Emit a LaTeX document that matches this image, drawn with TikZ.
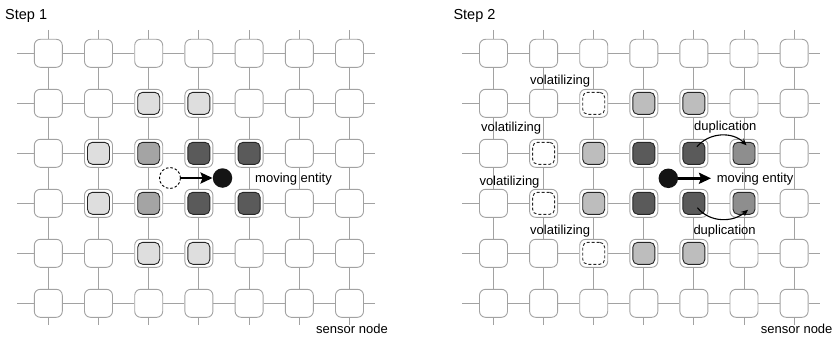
\documentclass[tikz,border=0pt]{standalone}
\usepackage{fontspec}
\setmainfont{Liberation Sans}
\usetikzlibrary{arrows.meta}

\definecolor{gridgray}{HTML}{A2A2A2}
\definecolor{paleone}{HTML}{DEDEDE}
\definecolor{midone}{HTML}{A4A4A4}
\definecolor{darkone}{HTML}{5A5A5A}
\definecolor{paletwo}{HTML}{BDBDBD}
\definecolor{midtwo}{HTML}{8E8E8E}

\begin{document}
\begin{tikzpicture}[x=1pt,y=-1pt,
  gridline/.style={draw=gridgray,line width=0.9pt},
  sensor/.style={draw=gridgray,fill=white,rounded corners=6pt,
    minimum size=28pt,inner sep=0pt,line width=0.9pt},
  core/.style={draw=black!85,rounded corners=5pt,minimum size=22pt,
    inner sep=0pt,line width=0.9pt},
  gone/.style={core,fill=white,dash pattern=on 3pt off 2pt},
  ghost/.style={circle,draw=black,dash pattern=on 2.5pt off 2pt,
    minimum size=21pt,inner sep=0pt,line width=0.9pt},
  entity/.style={circle,fill=black!92,minimum size=19.5pt,inner sep=0pt},
  move/.style={line width=2.6pt,-{Stealth[length=12pt,width=11pt,inset=2pt]}},
  dup/.style={line width=1.1pt,-{Stealth[length=7pt,width=6pt]}},
  lbl/.style={anchor=base west,inner sep=0pt,font=\fontsize{13}{15}\selectfont},
  steplbl/.style={anchor=base west,inner sep=0pt,font=\fontsize{14.5}{17}\selectfont}
]
\useasboundingbox (0,0) rectangle (837,337);

% sensor nodes, both panels
\foreach \c in {1,...,7}
  \foreach \r in {1,...,6} {
    \node[sensor] (L-\c-\r) at ({48.3+50.2*(\c-1)},{53.3+50*(\r-1)}) {};
    \node[sensor] (R-\c-\r) at ({493.5+50.1*(\c-1)},{53.3+50*(\r-1)}) {};
  }

% grid links
\foreach \p/\xw/\xe in {L/17/375,R/462/820} {
  \foreach \r in {1,...,6} {
    \coordinate (\p-w-\r) at (\xw,{53.3+50*(\r-1)});
    \coordinate (\p-e-\r) at (\xe,{53.3+50*(\r-1)});
    \draw[gridline] (\p-w-\r) -- (\p-1-\r);
    \draw[gridline] (\p-7-\r) -- (\p-e-\r);
    \foreach \c [evaluate=\c as \n using int(\c+1)] in {1,...,6}
      \draw[gridline] (\p-\c-\r) -- (\p-\n-\r);
  }
  \foreach \c in {1,...,7} {
    \path (\p-\c-1) ++(0,-23.3) coordinate (\p-n-\c);
    \path (\p-\c-6) ++(0,22) coordinate (\p-s-\c);
    \draw[gridline] (\p-n-\c) -- (\p-\c-1);
    \draw[gridline] (\p-\c-6) -- (\p-s-\c);
    \foreach \r [evaluate=\r as \n using int(\r+1)] in {1,...,5}
      \draw[gridline] (\p-\c-\r) -- (\p-\c-\n);
  }
}

% step 1 levels
\foreach \c/\r/\shade in {3/2/paleone,4/2/paleone,
    2/3/paleone,3/3/midone,4/3/darkone,5/3/darkone,
    2/4/paleone,3/4/midone,4/4/darkone,5/4/darkone,
    3/5/paleone,4/5/paleone}
  \node[core,fill=\shade] (L-\c-\r-in) at (L-\c-\r) {};

% step 2 levels
\foreach \c/\r/\shade in {4/2/paletwo,5/2/paletwo,
    3/3/paletwo,4/3/darkone,5/3/darkone,6/3/midtwo,
    3/4/paletwo,4/4/darkone,5/4/darkone,6/4/midtwo,
    4/5/paletwo,5/5/paletwo}
  \node[core,fill=\shade] (R-\c-\r-in) at (R-\c-\r) {};
\foreach \c/\r in {3/2,2/3,2/4,3/5}
  \node[gone] (R-\c-\r-in) at (R-\c-\r) {};

% moving entity
\node[ghost] (L-was) at (170,178) {};
\node[entity] (L-now) at (222.5,178) {};
\draw[move] (L-was) -- (L-now);

\node[entity] (R-now) at (668.3,178.3) {};
\coordinate (R-next) at (711,178.3);
\draw[move] (R-now) -- (R-next);

% duplication
\draw[dup] ([xshift=3pt,yshift=6.5pt]R-5-3.center) to[out=50,in=135]
  ([xshift=2.5pt,yshift=8pt]R-6-3.center);
\draw[dup] ([xshift=3.5pt,yshift=-4.5pt]R-5-4.center) to[out=-50,in=-140]
  ([xshift=4pt,yshift=-6.5pt]R-6-4.center);

% texts
\node[steplbl] (L-title) at (5,19.3) {Step 1};
\node[steplbl] (R-title) at (453.3,19.3) {Step 2};
\node[lbl] (L-movelbl) at (255,182.7) {moving entity};
\node[lbl] (R-movelbl) at (716.7,182.7) {moving entity};
\node[lbl] (L-sensorlbl) at (316,333) {sensor node};
\node[lbl] (R-sensorlbl) at (760.7,333) {sensor node};
\node[lbl] (R-vol1) at (530,84.3) {volatilizing};
\node[lbl] (R-vol2) at (481,131) {volatilizing};
\node[lbl] (R-vol3) at (479.3,185) {volatilizing};
\node[lbl] (R-vol4) at (530,234.3) {volatilizing};
\node[lbl] (R-dup1) at (694,130) {duplication};
\node[lbl] (R-dup2) at (693.3,234.3) {duplication};
\end{tikzpicture}
\end{document}
